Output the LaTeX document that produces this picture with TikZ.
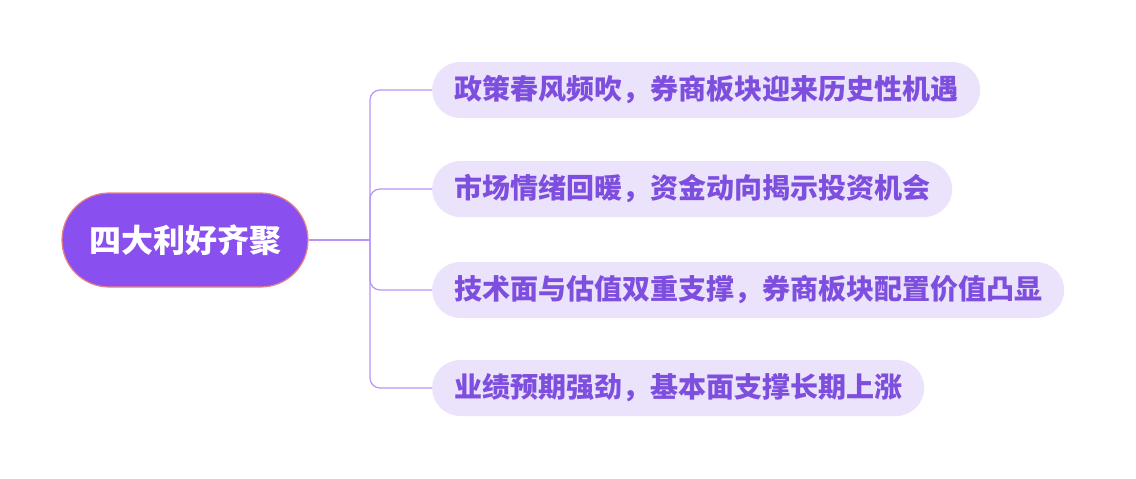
\documentclass[tikz,border=0pt]{standalone}
\usepackage{fontspec}
\setmainfont{Noto Sans CJK SC}
\usetikzlibrary{positioning, calc}
\definecolor{rootfill}{HTML}{8A4FEF}
\definecolor{rootdraw}{HTML}{E8837F}
\definecolor{leaffill}{HTML}{EBE2FB}
\definecolor{leaftext}{HTML}{7E4EDF}
\definecolor{linkcol}{HTML}{B894F4}
\tikzset{
	rootbox/.style={draw=rootdraw, line width=1.2pt, fill=rootfill, text=white, rounded corners=47pt,
		minimum width=246pt, minimum height=94pt, font=\bfseries\fontsize{32}{36}\selectfont},
	leafbox/.style={fill=leaffill, text=leaftext, rounded corners=28pt, minimum height=56pt,
		inner xsep=22pt, anchor=west, font=\bfseries\fontsize{28}{32}\selectfont},
	link/.style={draw=linkcol, line width=1.2pt, rounded corners=10pt},
}
\begin{document}
\begin{tikzpicture}[x=1pt,y=-1pt]
	\useasboundingbox (0,0) rectangle (1136,479);
	\node[rootbox] (root) at (185,240) {四大利好齐聚};
	\coordinate (fork) at (370,240);
	\node[leafbox] (l1) at (432,90) {政策春风频吹，券商板块迎来历史性机遇};
	\node[leafbox] (l2) at (432,189) {市场情绪回暖，资金动向揭示投资机会};
	\node[leafbox] (l3) at (432,290) {技术面与估值双重支撑，券商板块配置价值凸显};
	\node[leafbox] (l4) at (432,388) {业绩预期强劲，基本面支撑长期上涨};
	\draw[link] (root.east) -- (fork);
	\foreach \n in {l1,l2,l3,l4}
		\draw[link] (fork) |- (\n.west);
\end{tikzpicture}
\end{document}
